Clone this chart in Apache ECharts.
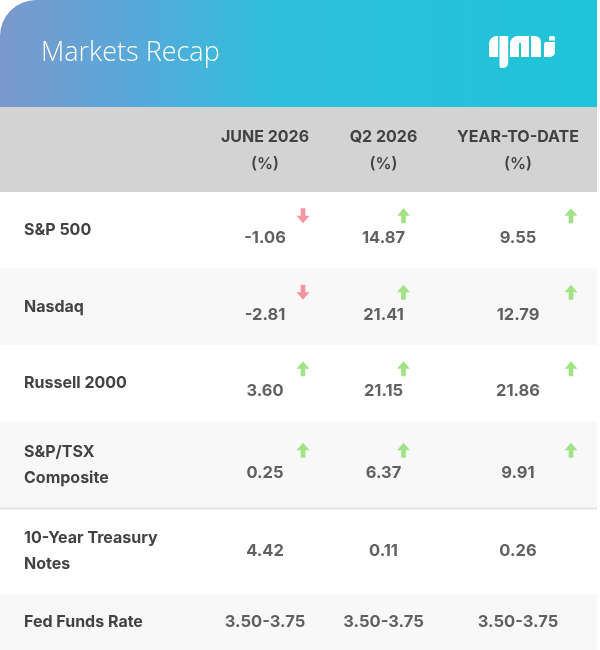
<!DOCTYPE html>
<html>
<head>
<meta charset="utf-8">
<script src="https://cdn.jsdelivr.net/npm/echarts@6/dist/echarts.min.js"></script>
<style>
html,body{margin:0;padding:0;background:#fff;}
#chart{width:600px;height:650px;}
</style>
</head>
<body>
<div id="chart"></div>
<script>
// ---- data ----
const rowNames = ['S&P 500', 'Nasdaq', 'Russell 2000', 'S&P/TSX\nComposite', '10-Year Treasury\nNotes', 'Fed Funds Rate'];
const colNames = ['JUNE 2026', 'Q2 2026', 'YEAR-TO-DATE'];
const colUnits = ['(%)', '(%)', '(%)'];
const juneVals = ['-1.06', '-2.81', '3.60', '0.25', '4.42', '3.50-3.75'];
const q2Vals = ['14.87', '21.41', '21.15', '6.37', '0.11', '3.50-3.75'];
const ytdVals = ['9.55', '12.79', '21.86', '9.91', '0.26', '3.50-3.75'];
const hasArrow = [true, true, true, true, false, false];
const titleText = 'Markets Recap';

// ---- layout (not data) ----
const baseRowH = 76.5;     // height of a one-line row, in table units
const extraLineH = 10;     // extra height per extra label line
const tableSpan = 458;     // visible table height
const dividerAfter = 3;    // a rule is drawn under this row
const colShift = [0, -8, 0];
const arrowDx = [38, 20, 53];
const textColor = '#424242';
const font = 'Inter';

// row extents computed from the number of label lines (last row clipped to the visible span)
const rowTop = [], rowBottom = [], rowMid = [];
let acc = 0;
rowNames.forEach((n, i) => {
  const h = baseRowH + (n.split('\n').length - 1) * extraLineH;
  rowTop.push(acc); acc = Math.min(acc + h, tableSpan); rowBottom.push(acc);
  rowMid.push((rowTop[i] + rowBottom[i]) / 2);
});

const columns = [juneVals, q2Vals, ytdVals];
const valueData = [];
const arrowData = [];
columns.forEach((vals, c) => {
  vals.forEach((v, r) => {
    valueData.push({
      value: [c, rowMid[r]],
      label: { formatter: v, offset: [colShift[c], hasArrow[r] ? 8 : 0] }
    });
    if (hasArrow[r]) {
      const down = parseFloat(v) < 0;
      arrowData.push({
        value: [c, rowMid[r]],
        symbolRotate: down ? 180 : 0,
        symbolOffset: [arrowDx[c] + colShift[c], -14.5],
        itemStyle: { color: down ? '#f47a89' : '#8bdc68' }
      });
    }
  });
});

const chart = echarts.init(document.getElementById('chart'), null, { renderer: 'canvas' });

const logoRects = [
  { x: 489, y: 36, width: 9.2, height: 21, r: [8, 0, 0, 1], fill: '#ffffff' },
  { x: 499.5, y: 36, width: 8.7, height: 32, r: [0, 1, 5, 2], fill: '#ffffff' },
  { x: 510, y: 36, width: 19, height: 21, r: [8, 0, 0, 0], fill: '#ffffff' },
  { x: 519, y: 43, width: 2, height: 14, r: 0, fill: '#1fc4d8' },
  { x: 531, y: 36, width: 10, height: 21, r: [0, 6, 0, 0], fill: '#ffffff' },
  { x: 544, y: 42, width: 11, height: 15, r: [2, 0, 5, 0], fill: '#ffffff' },
  { x: 549, y: 36, width: 6, height: 4.5, r: [2, 2, 0, 0], fill: '#ffffff' }
];

const option = {
  animation: false,
  backgroundColor: '#ffffff',
  title: {
    text: titleText,
    left: 36,
    top: 35,
    textStyle: { color: '#ffffff', fontSize: 27, fontWeight: 300, fontFamily: 'Open Sans' }
  },
  graphic: [
    {
      type: 'rect', z: -10,
      shape: { x: 0, y: 0, width: 597, height: 107, r: [36, 0, 0, 0] },
      style: {
        fill: new echarts.graphic.LinearGradient(0, 0, 1, 0, [
          { offset: 0, color: '#7c98cc' },
          { offset: 0.22, color: '#58a8d9' },
          { offset: 0.45, color: '#2fbfdb' },
          { offset: 1, color: '#1fc4d8' }
        ])
      }
    },
    {
      type: 'rect', z: -10,
      shape: { x: 0, y: 107, width: 597, height: 85 },
      style: { fill: '#d3d3d3' }
    }
  ].concat(logoRects.map(r => ({
    type: 'rect', z: 5,
    shape: { x: r.x, y: r.y, width: r.width, height: r.height, r: r.r },
    style: { fill: r.fill }
  }))),
  grid: [
    { left: 0, right: 3, top: 192, bottom: 0 },
    { left: 201.75, right: 18.75, top: 192, bottom: 0 }
  ],
  xAxis: [
    { gridIndex: 0, type: 'value', min: 0, max: 1, show: false },
    {
      gridIndex: 1, type: 'category', data: colNames, position: 'top',
      axisLine: { show: false }, axisTick: { show: false }, splitLine: { show: false },
      axisLabel: {
        margin: 14,
        interval: 0,
        formatter: (v, i) => '{h' + i + '|' + v + '}\n{u' + i + '|' + colUnits[i] + '}',
        rich: (() => {
          const r = {};
          colNames.forEach((n, i) => {
            const pad = colShift[i] < 0 ? [0, -2 * colShift[i], 0, 0] : [0, 0, 0, 2 * colShift[i]];
            r['h' + i] = { fontFamily: font, fontSize: 16, fontWeight: 'bold', color: textColor, lineHeight: 27, padding: pad };
            r['u' + i] = { fontFamily: font, fontSize: 16, fontWeight: 600, color: textColor, lineHeight: 27, padding: pad };
          });
          return r;
        })()
      }
    }
  ],
  yAxis: [
    { gridIndex: 0, type: 'value', inverse: true, min: 0, max: tableSpan, show: false },
    { gridIndex: 1, type: 'value', inverse: true, min: 0, max: tableSpan, show: false }
  ],
  series: [
    {
      name: 'rows', type: 'custom', xAxisIndex: 0, yAxisIndex: 0,
      data: rowNames.map((n, i) => [rowTop[i], rowBottom[i], i]),
      encode: { y: [0, 1] },
      clip: false,
      silent: true, z: 1,
      renderItem: (params, api) => {
        const i = api.value(2);
        const p0 = api.coord([0, api.value(0)]);
        const p1 = api.coord([1, api.value(1)]);
        const children = [
          {
            type: 'rect',
            shape: { x: p0[0], y: p0[1], width: p1[0] - p0[0], height: p1[1] - p0[1] },
            style: { fill: i % 2 === 0 ? '#ffffff' : '#f8f8f8' }
          },
          {
            type: 'text',
            style: {
              x: p0[0] + 24, y: (p0[1] + p1[1]) / 2,
              text: rowNames[i], fill: textColor,
              font: 'bold 16px ' + font, lineHeight: 26,
              align: 'left', verticalAlign: 'middle'
            }
          }
        ];
        if (i === dividerAfter + 1) {
          children.push({
            type: 'line',
            shape: { x1: p0[0], y1: p0[1] + 0.5, x2: p1[0], y2: p0[1] + 0.5 },
            style: { stroke: '#e4e4e4', lineWidth: 2 }
          });
        }
        return { type: 'group', children: children };
      }
    },
    {
      name: 'values', type: 'scatter', xAxisIndex: 1, yAxisIndex: 1,
      data: valueData, symbolSize: 1, itemStyle: { color: 'rgba(0,0,0,0)' },
      label: {
        show: true, position: 'inside',
        fontFamily: font, fontSize: 16.5, fontWeight: 'bold', color: '#3a3a3a'
      },
      silent: true, z: 5
    },
    {
      name: 'arrows', type: 'scatter', xAxisIndex: 1, yAxisIndex: 1,
      data: arrowData,
      symbol: 'path://M6.5,0 L13,7.5 L8.8,7.5 L8.8,15 L4.2,15 L4.2,7.5 L0,7.5 Z',
      symbolSize: [13, 15],
      silent: true, z: 6
    }
  ]
};
chart.setOption(option);
</script>
</body>
</html>
